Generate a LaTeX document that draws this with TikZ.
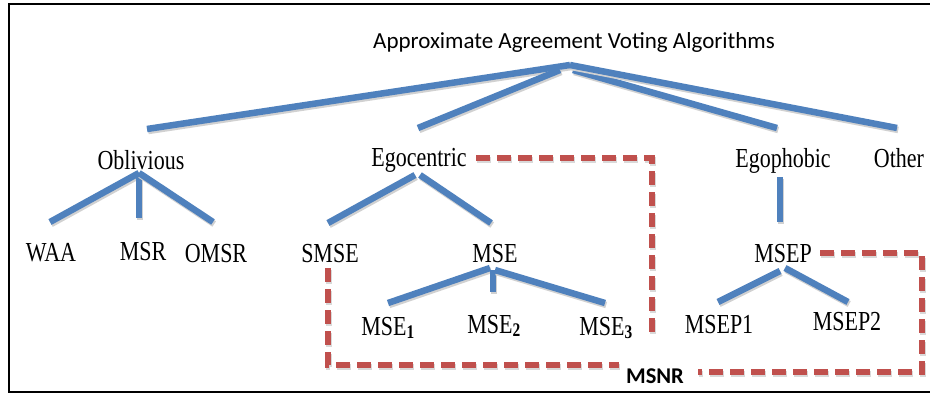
\documentclass[tikz,border=0pt]{standalone}
\usepackage{fontspec}
\setmainfont{Liberation Serif}
\newfontfamily\calfont{Carlito}
\definecolor{offblue}{RGB}{79,129,189}
\definecolor{offred}{RGB}{192,80,77}
\newcommand\ysq[1]{\scalebox{1}[1.25]{#1}}
\tikzset{
  lbl/.style={font=\fontsize{22}{24}\selectfont, inner sep=0pt, anchor=base},
  branch/.style={draw=offblue, line width=6.5pt,
    preaction={draw=black!18, line width=6.5pt, transform canvas={xshift=1.2pt,yshift=-2pt}}},
  msnrline/.style={draw=offred, line width=6.5pt, dash pattern=on 14pt off 7pt,
    preaction={draw=black!15, line width=6.5pt, dash pattern=on 14pt off 7pt, transform canvas={xshift=1.2pt,yshift=-2pt}}}
}
\begin{document}
\begin{tikzpicture}[x=1pt,y=-1pt]
\useasboundingbox (0,0) rectangle (930,394);
\fill[white] (0,0) rectangle (930,394);
% frame
\draw[black, line width=2.5pt] (930,4) -- (9,4) -- (9,392) -- (930,392);

% nodes
\node[lbl, font=\fontsize{23}{26}\selectfont\calfont] (title) at (574,48) {Approximate Agreement Voting Algorithms};
\node[lbl] (obl) at (141,169) {\ysq{Oblivious}};
\node[lbl] (ego) at (419,166) {\ysq{Egocentric}};
\node[lbl] (egp) at (783,167) {\ysq{Egophobic}};
\node[lbl] (oth) at (899,167) {\ysq{Other}};
\node[lbl] (waa) at (51,261) {\ysq{WAA}};
\node[lbl] (msr) at (143,260) {\ysq{MSR}};
\node[lbl] (omsr) at (216,262) {\ysq{OMSR}};
\node[lbl] (smse) at (330,262) {\ysq{SMSE}};
\node[lbl] (mse) at (495,262) {\ysq{MSE}};
\node[lbl] (msep) at (783,262) {\ysq{MSEP}};
\node[lbl] (mse1) at (388,335) {\ysq{MSE\textsubscript{\textbf{1}}}};
\node[lbl] (mse2) at (494,333) {\ysq{MSE\textsubscript{\textbf{2}}}};
\node[lbl] (mse3) at (606,335) {\ysq{MSE\textsubscript{\textbf{3}}}};
\node[lbl] (msep1) at (719,333) {\ysq{MSEP1}};
\node[lbl] (msep2) at (847,330) {\ysq{MSEP2}};
\node[lbl, font=\fontsize{22.5}{25}\selectfont\calfont\bfseries] (msnr) at (655,383) {MSNR};

% connector end points
\coordinate (apex) at (570,65);
\coordinate (apexL) at (560,70);
\coordinate (apexR) at (573,70);
\coordinate (oblT) at (147,129);
\coordinate (egoT) at (418,128);
\coordinate (egpT) at (777,128);
\coordinate (othT) at (897,128);
\coordinate (oblB) at (139,173);
\coordinate (waaT) at (50,222);
\coordinate (msrT) at (139,218);
\coordinate (omsrT) at (213,222);
\coordinate (egoBL) at (415,175);
\coordinate (egoBR) at (420,175);
\coordinate (smseT) at (328,223);
\coordinate (mseT) at (491,223);
\coordinate (mseBL) at (490,268);
\coordinate (mseB) at (493,270);
\coordinate (mseBR) at (495,270);
\coordinate (mse1T) at (388,303);
\coordinate (mse2T) at (493,292);
\coordinate (mse3T) at (605,303);
\coordinate (egpB) at (780,177);
\coordinate (msepT) at (780,222);
\coordinate (msepBL) at (780,271);
\coordinate (msepBR) at (785,268);
\coordinate (msep1T) at (718,302);
\coordinate (msep2T) at (848,302);

% blue tree
\draw[branch] (apex) -- (oblT);
\draw[branch] (apexL) -- (egoT);
\draw[branch] (apexR) -- (egpT);
\draw[branch] (apex) -- (othT);
\draw[branch] (oblB) -- (waaT);
\draw[branch] (oblB) -- (msrT);
\draw[branch] (oblB) -- (omsrT);
\draw[branch] (egoBL) -- (smseT);
\draw[branch] (egoBR) -- (mseT);
\draw[branch] (mseBL) -- (mse1T);
\draw[branch] (mseB) -- (mse2T);
\draw[branch] (mseBR) -- (mse3T);
\draw[branch] (egpB) -- (msepT);
\draw[branch] (msepBL) -- (msep1T);
\draw[branch] (msepBR) -- (msep2T);

% red dashed MSNR outline
\coordinate (r1a) at (476,158);
\coordinate (r1b) at (652,158);
\coordinate (r1c) at (652,337);
\coordinate (r2a) at (328,268);
\coordinate (r2b) at (328,365);
\coordinate (r2c) at (619,365);
\coordinate (r3a) at (820,253);
\coordinate (r3b) at (922,253);
\coordinate (r3c) at (922,372);
\coordinate (r3d) at (698,372);
\draw[msnrline] (r1a) -- (r1b) -- (r1c);
\draw[msnrline] (r2a) -- (r2b) -- (r2c);
\draw[msnrline] (r3a) -- (r3b) -- (r3c) -- (r3d);
\end{tikzpicture}
\end{document}
